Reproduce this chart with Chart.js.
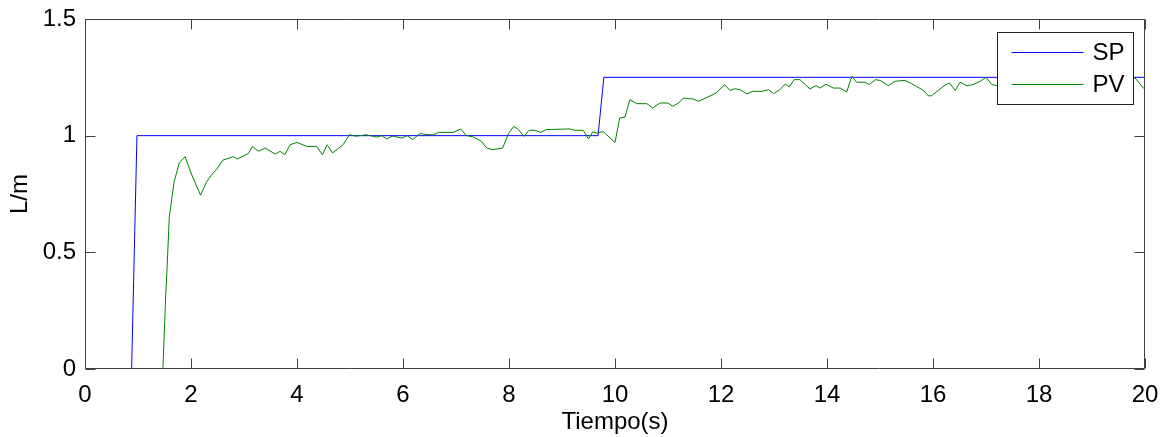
<!DOCTYPE html>
<html>
<head>
<meta charset="utf-8">
<script src="https://cdn.jsdelivr.net/npm/chart.js@4"></script>
<style>
  body { margin: 0; background: #fff; }
</style>
</head>
<body>
<canvas id="plot" width="1169" height="437"></canvas>
<script>
// set point (SP) - step changes
const spTime  = [0, 0.88, 0.98, 9.68, 9.79, 20];
const spValue = [0, 0, 1, 1, 1.25, 1.25];

// process value (PV)
const pvTime = [0, 1.47, 1.52, 1.55, 1.59, 1.68, 1.78, 1.89, 2.0, 2.18, 2.29, 2.38, 2.48, 2.6, 2.8, 2.87,
  3.08, 3.16, 3.27, 3.4, 3.59, 3.68, 3.77, 3.87, 4.0, 4.18, 4.37, 4.48, 4.57, 4.67, 4.87, 4.99,
  5.1, 5.2, 5.3, 5.38, 5.5, 5.6, 5.69, 5.8, 5.98, 6.08, 6.18, 6.32, 6.45, 6.57, 6.67, 6.95,
  7.09, 7.19, 7.33, 7.48, 7.58, 7.7, 7.88, 7.99, 8.09, 8.18, 8.28, 8.38, 8.49, 8.6, 8.7, 9.15,
  9.23, 9.4, 9.5, 9.58, 9.65, 9.78, 10.0, 10.09, 10.19, 10.28, 10.41, 10.6, 10.71, 10.85, 11.0,
  11.09, 11.2, 11.29, 11.48, 11.57, 11.85, 11.92, 12.07, 12.17, 12.26, 12.36, 12.49, 12.6, 12.77,
  12.9, 12.99, 13.11, 13.21, 13.29, 13.38, 13.49, 13.68, 13.79, 13.87, 13.98, 14.12, 14.25, 14.37,
  14.47, 14.56, 14.72, 14.8, 14.91, 15.0, 15.16, 15.28, 15.47, 15.57, 15.69, 15.82, 15.91, 15.97,
  16.1, 16.21, 16.31, 16.42, 16.51, 16.64, 16.76, 16.89, 17.0, 17.11, 17.21, 17.4, 17.6, 17.8,
  18.0, 18.2, 18.4, 18.6, 18.8, 19.0, 19.2, 19.4, 19.6, 19.81, 19.97, 20.0];
const pvValue = [0, 0, 0.30, 0.44, 0.65, 0.80, 0.885, 0.91, 0.84, 0.745, 0.80, 0.83, 0.855, 0.895, 0.91, 0.90,
  0.923, 0.954, 0.933, 0.947, 0.921, 0.933, 0.918, 0.961, 0.971, 0.954, 0.954, 0.918, 0.961, 0.926, 0.961, 1.004,
  0.998, 1.0, 1.004, 1.0, 0.994, 1.0, 0.986, 0.998, 0.99, 1.0, 0.983, 1.009, 1.005, 1.003, 1.014, 1.014,
  1.029, 1.001, 0.994, 0.976, 0.947, 0.94, 0.947, 1.009, 1.04, 1.026, 0.997, 1.023, 1.023, 1.014, 1.026, 1.029,
  1.023, 1.023, 0.986, 1.017, 1.011, 1.017, 0.971, 1.076, 1.08, 1.154, 1.137, 1.137, 1.119, 1.14, 1.14,
  1.126, 1.14, 1.161, 1.157, 1.147, 1.176, 1.186, 1.218, 1.194, 1.201, 1.197, 1.179, 1.19, 1.19,
  1.197, 1.18, 1.197, 1.221, 1.209, 1.24, 1.24, 1.2, 1.214, 1.204, 1.221, 1.204, 1.204, 1.187,
  1.254, 1.229, 1.229, 1.219, 1.24, 1.237, 1.214, 1.233, 1.237, 1.226, 1.211, 1.194, 1.171, 1.171,
  1.194, 1.214, 1.226, 1.194, 1.229, 1.214, 1.219, 1.233, 1.25, 1.219, 1.214, 1.23, 1.21, 1.22,
  1.235, 1.215, 1.225, 1.21, 1.23, 1.22, 1.235, 1.215, 1.225, 1.248, 1.204, 1.2];

const xTicks = [0, 2, 4, 6, 8, 10, 12, 14, 16, 18, 20];
const yTicks = [0, 0.5, 1, 1.5];
const seriesNames = ['SP', 'PV'];
const seriesColors = ['#0000ff', '#008000'];
const axisColor = '#404040';

Chart.defaults.font.family = '"Liberation Sans", Arial, sans-serif';
Chart.defaults.font.size = 24;
Chart.defaults.color = '#000';

// matlab style box: inward ticks on all four sides + legend box in the corner
const framePlugin = {
  id: 'frame',
  afterDatasetsDraw(chart) {
    const {ctx, chartArea: a, scales: {x, y}} = chart;
    const L = Math.round(a.left) + 0.5, R = Math.round(a.right) - 0.5;
    const T = Math.round(a.top) + 0.5, B = Math.round(a.bottom) - 0.5;
    ctx.save();
    ctx.strokeStyle = axisColor;
    ctx.lineWidth = 1;
    ctx.beginPath();
    ctx.rect(L, T, R - L, B - T);
    xTicks.forEach(v => {
      const px = Math.round(x.getPixelForValue(v)) + 0.5;
      ctx.moveTo(px, B); ctx.lineTo(px, B - 10);
      ctx.moveTo(px, T); ctx.lineTo(px, T + 10);
    });
    yTicks.forEach(v => {
      const py = Math.round(y.getPixelForValue(v)) + 0.5;
      ctx.moveTo(L, py); ctx.lineTo(L + 10, py);
      ctx.moveTo(R, py); ctx.lineTo(R - 10, py);
    });
    ctx.stroke();

    // legend
    const bx = R - 147, by = T + 13, bw = 136, bh = 72;
    ctx.fillStyle = '#fff';
    ctx.fillRect(bx, by, bw, bh);
    ctx.strokeStyle = '#202020';
    ctx.strokeRect(bx, by, bw, bh);
    ctx.font = '24px "Liberation Sans", Arial, sans-serif';
    ctx.textBaseline = 'middle';
    seriesNames.forEach((name, i) => {
      const ly = Math.round(by + 19 + i * 32) + 0.5;
      ctx.strokeStyle = seriesColors[i];
      ctx.beginPath();
      ctx.moveTo(bx + 14, ly); ctx.lineTo(bx + 86, ly);
      ctx.stroke();
      ctx.fillStyle = '#000';
      ctx.fillText(name, bx + 95, ly + 1);
    });
    ctx.restore();
  }
};

const data = {
  datasets: [{
    label: seriesNames[0],
    data: spTime.map((t, i) => ({x: t, y: spValue[i]})),
    borderColor: seriesColors[0],
    borderWidth: 1,
    pointRadius: 0,
    showLine: true,
    order: 1
  }, {
    label: seriesNames[1],
    data: pvTime.map((t, i) => ({x: t, y: pvValue[i]})),
    borderColor: seriesColors[1],
    borderWidth: 1,
    pointRadius: 0,
    showLine: true,
    order: 0
  }]
};

const config = {
  type: 'scatter',
  data: data,
  options: {
    responsive: false,
    animation: false,
    devicePixelRatio: 1,
    layout: { padding: { top: 19, right: 24, left: 0, bottom: 0 } },
    plugins: { legend: { display: false }, tooltip: { enabled: false } },
    scales: {
      x: {
        type: 'linear',
        min: 0, max: 20,
        afterBuildTicks: s => { s.ticks = xTicks.map(v => ({value: v})); },
        afterFit: s => { s.height = 68; s.paddingLeft = 0; s.paddingRight = 0; },
        ticks: { padding: 12, color: '#000', maxRotation: 0 },
        grid: { display: true, drawOnChartArea: false, drawTicks: false },
        border: { display: false },
        title: { display: true, text: 'Tiempo(s)', color: '#000', padding: { top: 0, bottom: 0 } }
      },
      y: {
        type: 'linear',
        min: 0, max: 1.5,
        afterBuildTicks: s => { s.ticks = yTicks.map(v => ({value: v})); },
        afterFit: s => { s.width = 85; s.paddingTop = 0; s.paddingBottom = 0; },
        ticks: { padding: 9, color: '#000', callback: v => String(v) },
        grid: { display: true, drawOnChartArea: false, drawTicks: false },
        border: { display: false },
        title: { display: true, text: 'L/m', color: '#000', padding: { top: 6, bottom: 0 } }
      }
    }
  },
  plugins: [framePlugin]
};

let ctx = document.getElementById('plot').getContext('2d');
let chart = new Chart(ctx, config);
</script>
</body>
</html>
